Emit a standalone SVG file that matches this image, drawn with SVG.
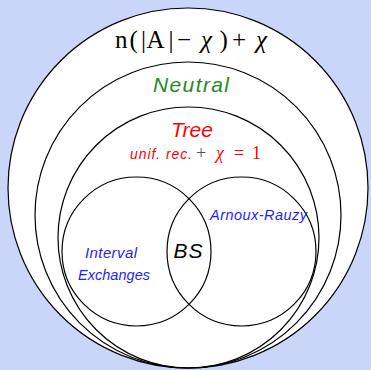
<svg xmlns="http://www.w3.org/2000/svg" width="371" height="370" viewBox="0 0 371 370">
<style>
.c{fill:none;stroke:#000;stroke-width:1.2}
.s{font-family:"Liberation Sans","DejaVu Sans",sans-serif;font-style:italic}
.m{font-family:"Liberation Serif","DejaVu Serif",serif}
.blue{fill:#1e1eff}
</style>
<rect width="371" height="370" fill="#c9d6fa"/>
<g id="outer">
<circle cx="188" cy="188" r="180" fill="#fff" stroke="#000" stroke-width="1.2"/>
<text class="m" y="48" font-size="25"><tspan x="115">n</tspan><tspan x="129.5">(</tspan><tspan x="141">|</tspan><tspan x="146.5">A</tspan><tspan x="168.5">|</tspan><tspan x="177">−</tspan><tspan x="201" font-style="italic">χ</tspan><tspan x="219.5">)</tspan><tspan x="232">+</tspan><tspan x="256" font-style="italic">χ</tspan></text>
</g>
<g id="neutral">
<circle class="c" cx="188" cy="215" r="153"/>
<text class="s" x="191" y="91.5" font-size="21" fill="#228b22" text-anchor="middle" textLength="76">Neutral</text>
</g>
<g id="tree">
<circle class="c" cx="188.5" cy="237.5" r="130.5"/>
<text class="s" x="192" y="137" font-size="21" fill="#ff0000" text-anchor="middle" textLength="42">Tree</text>
<text y="159">
<tspan class="s" x="130" fill="#ff0000" font-size="14" textLength="62">unif. rec.</tspan>
<tspan class="m" x="196" fill="#555" font-size="18">+</tspan>
<tspan class="m" x="216" fill="#ff0000" font-style="italic" font-size="18">χ</tspan>
<tspan class="m" x="234" fill="#ff0000" font-size="18">=</tspan>
<tspan class="m" x="252" fill="#ff0000" font-size="18">1</tspan>
</text>
</g>
<g id="interval">
<circle class="c" cx="136.5" cy="251.5" r="74.5"/>
<text class="s blue" x="111" y="258" font-size="15" text-anchor="middle" textLength="52">Interval</text>
<text class="s blue" x="114" y="280" font-size="14.5" text-anchor="middle" textLength="72">Exchanges</text>
</g>
<g id="arnoux">
<circle class="c" cx="241.5" cy="251.5" r="74.5"/>
<text class="s blue" x="258.5" y="220" font-size="14.5" text-anchor="middle" textLength="97">Arnoux-Rauzy</text>
</g>
<g id="bs">
<text class="s" x="188" y="258" font-size="21" text-anchor="middle" textLength="29">BS</text>
</g>
<g id="connectors"/>
</svg>
